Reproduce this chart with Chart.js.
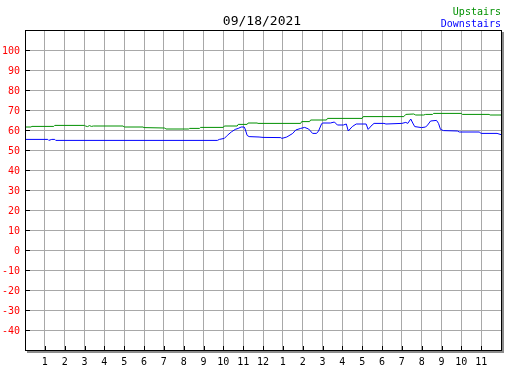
<!DOCTYPE html>
<html>
<head>
<meta charset="utf-8">
<script src="https://cdn.jsdelivr.net/npm/chart.js@4"></script>
<style>
  body { margin: 0; background: #fff; }
</style>
</head>
<body>
<canvas id="chart1" width="527" height="370"></canvas>
<script>
// chart text
const chartTitle = '09/18/2021';
const hourLabels = ['', '1', '2', '3', '4', '5', '6', '7', '8', '9', '10', '11', '12',
  '1', '2', '3', '4', '5', '6', '7', '8', '9', '10', '11', ''];

// Upstairs readings (hour of day, temperature)
const upHours = [0, 0.3, 0.35, 1.45, 1.5, 3.0, 3.05, 3.15, 3.25, 3.35, 3.45, 4.95, 5.0, 5.95, 6.0,
  7.05, 7.1, 8.25, 8.3, 8.8, 8.85, 10.0, 10.05, 10.7, 10.75, 11.2, 11.25, 11.7, 11.75, 13.9,
  13.95, 14.35, 14.4, 15.2, 15.25, 17.0, 17.05, 19.1, 19.2, 19.6, 19.7, 20.1, 20.2, 20.55,
  20.6, 22.0, 22.05, 23.4, 23.45, 24];
const upTemps = [61.5, 61.5, 61.8, 61.8, 62.3, 62.3, 62.0, 61.7, 62.2, 61.8, 62.0, 62.0, 61.5, 61.5, 61.2,
  61.0, 60.5, 60.5, 60.8, 60.8, 61.3, 61.3, 62.0, 62.0, 62.8, 62.8, 63.5, 63.5, 63.3, 63.3,
  64.2, 64.2, 65.0, 65.0, 65.8, 65.8, 66.7, 66.7, 67.8, 68.0, 67.5, 67.5, 67.8, 67.8,
  68.3, 68.3, 67.8, 67.8, 67.5, 67.5];

// Downstairs readings (hour of day, temperature)
const downHours = [0, 1.15, 1.2, 1.35, 1.5, 1.55, 9.7, 9.8, 10.05, 10.2, 10.4, 10.6, 10.75, 10.9,
  11.05, 11.1, 11.2, 11.3, 11.8, 12.0, 12.9, 12.95, 13.2, 13.5, 13.65, 13.9, 14.1, 14.3, 14.5,
  14.7, 14.8, 14.95, 15.0, 15.4, 15.6, 15.75, 16.05, 16.2, 16.3, 16.5, 16.7, 17.2, 17.3, 17.5,
  17.6, 18.1, 18.2, 19.0, 19.2, 19.3, 19.45, 19.55, 19.65, 20.0, 20.2, 20.3, 20.45, 20.75,
  20.85, 20.95, 21.1, 21.8, 21.9, 22.9, 23.0, 23.8, 24];
const downTemps = [55.3, 55.3, 54.8, 55.3, 55.3, 54.8, 54.8, 55.3, 55.8, 57.3, 59.0, 60.3, 60.8, 61.5,
  61.5, 60.5, 57.3, 56.7, 56.5, 56.3, 56.2, 55.8, 56.5, 58.3, 60.0, 60.8, 61.3, 60.5, 58.3,
  58.3, 59.5, 63.0, 63.5, 63.5, 64.0, 62.5, 62.5, 63.0, 59.5, 61.7, 63.0, 63.0, 60.3, 62.5,
  63.3, 63.3, 63.0, 63.3, 63.8, 63.3, 65.5, 63.5, 61.7, 61.2, 61.5, 62.5, 64.5, 64.8,
  63.3, 60.3, 59.7, 59.5, 59.0, 59.0, 58.3, 58.3, 57.7];

function toPoints(xs, ys) {
  return xs.map((x, i) => ({ x: x, y: ys[i] }));
}

const monoFont = '"DejaVu Sans Mono", monospace';

// frame, drop shadow, tick stubs, title and the text-only legend
const framePlugin = {
  id: 'frame',
  afterDraw(chart) {
    const ctx = chart.ctx;
    const a = chart.chartArea;
    const xs = chart.scales.x;
    const ys = chart.scales.y;
    ctx.save();
    ctx.fillStyle = '#8c8c8c';
    ctx.fillRect(a.right + 1, a.top + 2, 2, a.bottom - a.top + 1);
    ctx.fillRect(a.left + 2, a.bottom + 1, a.right - a.left + 1, 2);
    ctx.strokeStyle = '#000';
    ctx.lineWidth = 1;
    ctx.strokeRect(a.left + 0.5, a.top + 0.5, a.right - a.left, a.bottom - a.top);
    ctx.beginPath();
    ys.ticks.forEach(t => {
      if (t.value > ys.min && t.value < ys.max) {
        const y = Math.round(ys.getPixelForValue(t.value)) + 0.5;
        ctx.moveTo(a.left, y);
        ctx.lineTo(a.left + 5, y);
      }
    });
    xs.ticks.forEach(t => {
      if (t.value > xs.min && t.value < xs.max) {
        const x = Math.round(xs.getPixelForValue(t.value)) + 0.5;
        ctx.moveTo(x, a.bottom);
        ctx.lineTo(x, a.bottom - 4);
      }
    });
    ctx.stroke();

    ctx.textBaseline = 'alphabetic';
    ctx.font = '13px ' + monoFont;
    ctx.fillStyle = '#000';
    ctx.textAlign = 'center';
    ctx.fillText(chartTitle, (a.left + a.right) / 2 - 1, 25);

    ctx.font = '10px ' + monoFont;
    ctx.textAlign = 'right';
    chart.data.datasets.forEach((ds, i) => {
      ctx.fillStyle = ds.borderColor;
      ctx.fillText(ds.label, a.right, 15 + i * 12);
    });
    ctx.restore();
  }
};

const chart1 = new Chart(document.getElementById('chart1'), {
  type: 'line',
  data: {
    datasets: [{
      label: 'Upstairs',
      data: toPoints(upHours, upTemps),
      borderColor: '#009000',
      borderWidth: 1,
      pointRadius: 0,
      tension: 0,
      fill: false
    }, {
      label: 'Downstairs',
      data: toPoints(downHours, downTemps),
      borderColor: '#0000ff',
      borderWidth: 1,
      pointRadius: 0,
      tension: 0,
      fill: false
    }]
  },
  options: {
    responsive: false,
    animation: false,
    layout: { padding: { top: 30, right: 26, left: 0, bottom: 0 } },
    plugins: {
      legend: { display: false },
      title: { display: false },
      tooltip: { enabled: false }
    },
    scales: {
      x: {
        type: 'linear',
        min: 0,
        max: 24,
        afterFit: s => { s.height = 20; },
        border: { display: false },
        grid: { color: '#a8a8a8', drawTicks: false },
        ticks: {
          stepSize: 1,
          autoSkip: false,
          maxRotation: 0,
          padding: 6,
          color: '#000',
          font: { family: monoFont, size: 10 },
          callback: v => hourLabels[v]
        }
      },
      y: {
        min: -50,
        max: 110,
        afterFit: s => { s.width = 25; },
        border: { display: false },
        grid: { color: '#a8a8a8', drawTicks: false },
        ticks: {
          stepSize: 10,
          padding: 5,
          labelOffset: 1.5,
          color: '#ff0000',
          font: { family: monoFont, size: 10 },
          callback: v => (v > -50 && v < 110) ? String(v) : ''
        }
      }
    }
  },
  plugins: [framePlugin]
});
</script>
</body>
</html>
